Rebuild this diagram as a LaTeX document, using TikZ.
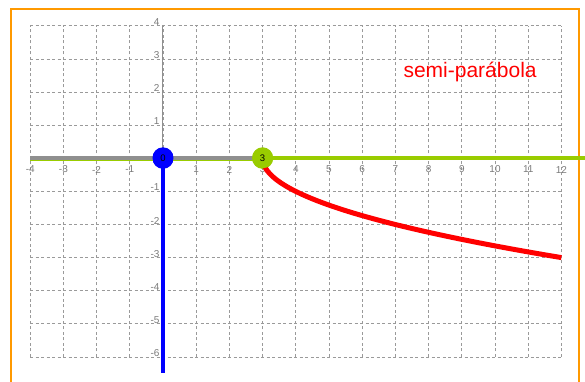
\documentclass[tikz,border=0pt]{standalone}
\usepackage{fontspec}
\setmainfont{Liberation Sans}
\definecolor{gridgray}{HTML}{9A9A9A}
\definecolor{axisgray}{HTML}{8F8F8F}
\definecolor{ticktext}{HTML}{7A7A7A}
\definecolor{lgreen}{HTML}{99CC00}
\definecolor{frameorange}{HTML}{FF9900}
\begin{document}
\begin{tikzpicture}[x=33.2bp,y=33.1bp,
  gridline/.style={draw=gridgray,line width=0.8bp,dash pattern=on 3bp off 2.5bp},
  ticklab/.style={text=ticktext,font=\fontsize{10bp}{11bp}\selectfont,inner sep=0pt},
  ptnode/.style={circle,minimum size=21bp,inner sep=0pt,font=\fontsize{9.5bp}{10bp}\selectfont},
]
\useasboundingbox (-4.9096,-6.7583) rectangle (12.7108,4.7825);
% frame
\draw[frameorange,line width=2bp] (-4.578,-7) -- (-4.578,4.51) -- (12.53,4.51) -- (12.53,-7);
% grid
\foreach \x in {-4,...,12} \draw[gridline] (\x,-6) -- (\x,4);
\foreach \y in {-6,...,4} \draw[gridline] (-4,\y) -- (12,\y);
% y axis
\coordinate (ytop) at (0,4);
\coordinate (ybot) at (0,-6);
\draw[axisgray,line width=1bp] (ytop) -- (ybot);
% tick labels
\foreach \x in {-4,-3,-2,-1,1,2,3,4,5,6,7,8,9,10,11,12}
  \node[ticklab] (xl\x) at (\x,-0.34) {\x};
\foreach \y in {-6,-5,-4,-3,-2,-1,1,2,3,4}
  \node[ticklab,anchor=east] (yl\y) at (-0.1,\y+0.12) {\y};
% lines
\coordinate (xleft) at (-4,0);
\coordinate (xright) at (12.72,0);
\coordinate (bend) at (0,-6.5);
\node[ptnode,fill=blue] (p0) at (0,0) {};
\node[ptnode,fill=lgreen] (p3) at (3,0) {};
\draw[lgreen,line width=1.2bp] ([yshift=-2.2bp]xleft) -- ([yshift=-2.2bp]p3.center);
\draw[axisgray,line width=4bp] ([yshift=0.6bp]xleft) -- ([yshift=0.6bp]p3.center);
\draw[lgreen,line width=4bp] (p3.center) -- (xright);
\draw[blue,line width=4bp] (p0.center) -- (bend);
\draw[red,line width=5bp] plot[domain=3.02:12,samples=120,smooth] (\x,{-sqrt(\x-3)});
\node[ptnode,fill=blue,yshift=0.5bp] at (p0) {\raisebox{-1.5bp}{0}};
\node[ptnode,fill=lgreen,yshift=0.5bp] at (p3) {\raisebox{-1.5bp}{3}};
% label
\node[text=red,font=\fontsize{21bp}{24bp}\selectfont,inner sep=0pt] (lab) at (9.25,2.61) {semi-parábola};
\end{tikzpicture}
\end{document}
